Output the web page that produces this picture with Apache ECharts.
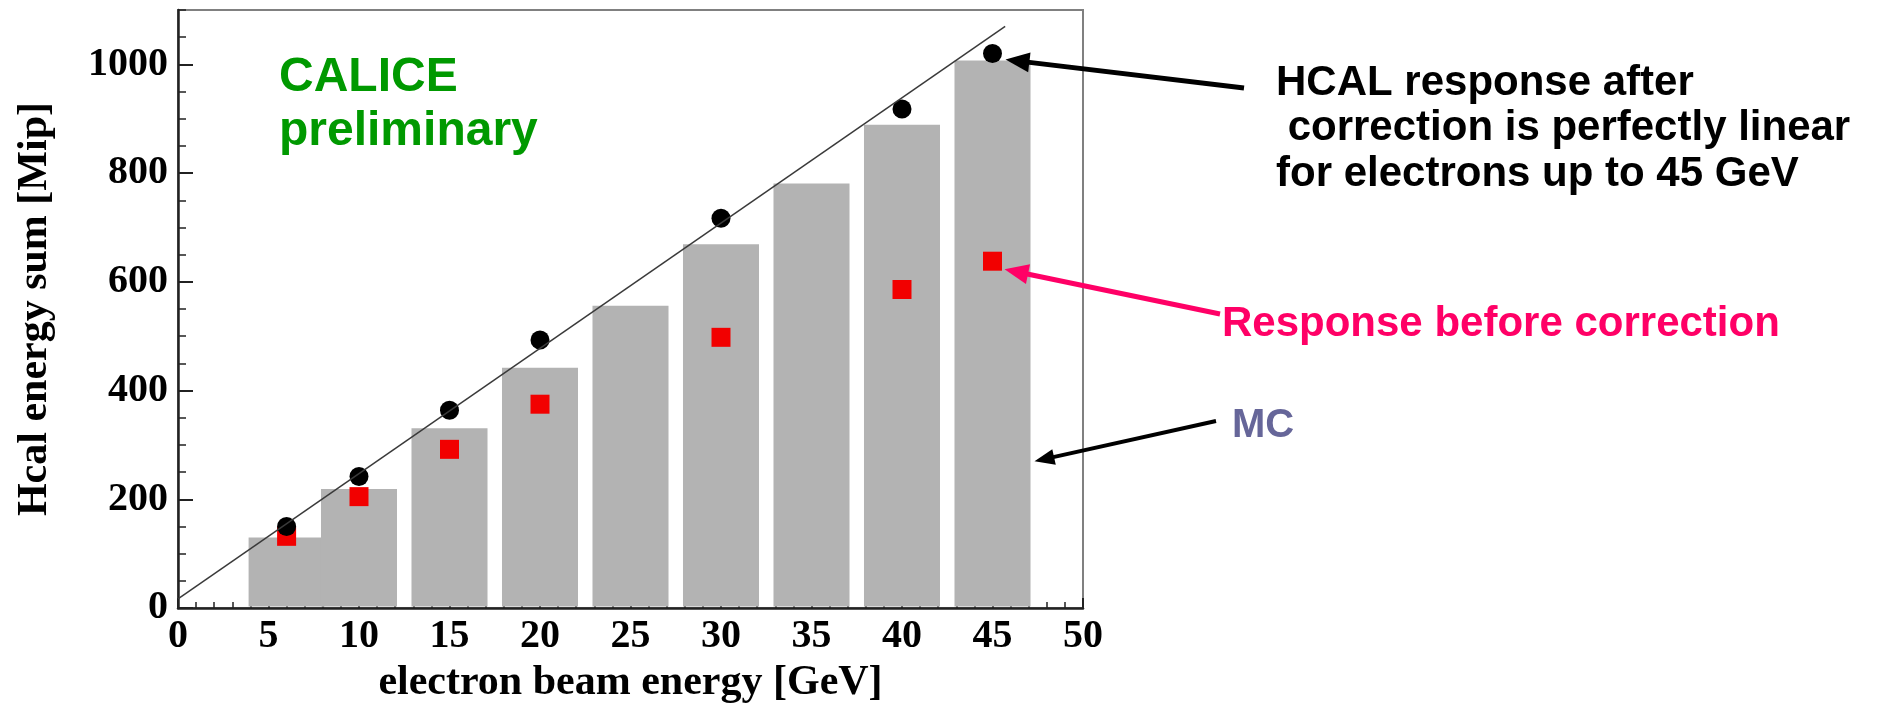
<!DOCTYPE html>
<html>
<head>
<meta charset="utf-8">
<script src="https://cdn.jsdelivr.net/npm/echarts@6/dist/echarts.min.js"></script>
<style>
  html, body { margin: 0; padding: 0; background: #ffffff; }
  #chart { width: 1881px; height: 709px; }
</style>
</head>
<body>
<div id="chart"></div>
<script>
// Beam energies of the electron runs [GeV]
const energies = [6, 10, 15, 20, 30, 40, 45];
// HCAL energy sum after correction [Mip]
const corrected = [150, 242, 364, 493, 717, 918, 1020];
// HCAL energy sum before correction [Mip]
const uncorrected = [132, 205, 292, 375, 498, 586, 638];
// Monte Carlo prediction, one bin per simulated energy
const mcEnergies = [6, 10, 15, 20, 25, 30, 35, 40, 45];
const mcResponse = [130, 219, 331, 442, 556, 669, 781, 889, 1007];
// Linear reference line (end points)
const fitEnergy = [0, 45.7];
const fitResponse = [17, 1070];

// Half width of an MC bin in GeV
const MC_HALF = 2.1;

const serif = 'Liberation Serif';
const sans = 'Liberation Sans';

const chart = echarts.init(document.getElementById('chart'), null, { renderer: 'canvas' });

const axisFont = { fontFamily: serif, fontWeight: 'bold', fontSize: 40, color: '#000' };

chart.setOption({
  animation: false,
  backgroundColor: '#ffffff',
  grid: {
    left: 178, right: 798, top: 10, bottom: 93,
    show: true, borderColor: '#808080', borderWidth: 2, backgroundColor: 'transparent'
  },
  xAxis: {
    type: 'value', min: 0, max: 50, interval: 5,
    axisLine: { lineStyle: { color: '#222', width: 2.5 } },
    axisTick: { inside: true, length: 10, lineStyle: { color: '#222', width: 2 } },
    minorTick: { show: true, splitNumber: 5, length: 6, lineStyle: { color: '#222', width: 1.5 } },
    splitLine: { show: false },
    axisLabel: Object.assign({ margin: 9 }, axisFont),
    name: 'electron beam energy [GeV]',
    nameLocation: 'middle', nameGap: 52,
    nameTextStyle: { fontFamily: serif, fontWeight: 'bold', fontSize: 42, color: '#000' }
  },
  yAxis: [
    {
      type: 'value', position: 'left', min: 0, max: 1100, interval: 200,
      axisLine: { show: true, lineStyle: { color: '#222', width: 2.5 } },
      axisTick: { inside: true, length: 15, lineStyle: { color: '#222', width: 2 } },
      splitLine: { show: false },
      axisLabel: Object.assign({ margin: 10, showMaxLabel: false, formatter: v => String(v) }, axisFont),
      name: 'Hcal energy sum [Mip]',
      nameLocation: 'middle', nameGap: 122, nameRotate: 90,
      nameTextStyle: { fontFamily: serif, fontWeight: 'bold', fontSize: 42, color: '#000' }
    },
    {
      // fine ticks every 50 Mip
      type: 'value', position: 'left', min: 0, max: 1100, interval: 50,
      axisLine: { show: false },
      axisTick: { inside: true, length: 8, lineStyle: { color: '#222', width: 1.5 } },
      splitLine: { show: false },
      axisLabel: { show: false }
    }
  ],
  series: [
    {
      name: 'MC',
      type: 'custom',
      data: mcEnergies.map((e, i) => [e, mcResponse[i]]),
      renderItem: function (params, api) {
        const x = api.value(0), v = api.value(1);
        const pTop = api.coord([x - MC_HALF, v]);
        const pBot = api.coord([x + MC_HALF, 0]);
        return {
          type: 'rect',
          shape: { x: pTop[0], y: pTop[1], width: pBot[0] - pTop[0], height: pBot[1] - pTop[1] - 1.5 },
          style: { fill: '#b3b3b3' }
        };
      }
    },
    {
      name: 'linear',
      type: 'line',
      data: fitEnergy.map((e, i) => [e, fitResponse[i]]),
      showSymbol: false,
      lineStyle: { color: '#3a3a3a', width: 1.5 }
    },
    {
      name: 'before correction',
      type: 'scatter',
      data: energies.map((e, i) => [e, uncorrected[i]]),
      symbol: 'rect', symbolSize: 19,
      itemStyle: { color: '#f20000', opacity: 1 }
    },
    {
      name: 'after correction',
      type: 'scatter',
      data: energies.map((e, i) => [e, corrected[i]]),
      symbol: 'circle', symbolSize: 19,
      itemStyle: { color: '#000000', opacity: 1 }
    }
  ]
});

// Arrow made of a thick shaft and a filled triangular head
function arrow(tail, tip, color, width, headLen, headHalf) {
  const dx = tip[0] - tail[0], dy = tip[1] - tail[1];
  const len = Math.sqrt(dx * dx + dy * dy);
  const ux = dx / len, uy = dy / len;
  const nx = -uy, ny = ux;
  const bx = tip[0] - ux * headLen, by = tip[1] - uy * headLen;
  return [
    { type: 'line', silent: true, z: 10,
      shape: { x1: tail[0], y1: tail[1], x2: bx + ux * 2, y2: by + uy * 2 },
      style: { stroke: color, lineWidth: width } },
    { type: 'polygon', silent: true, z: 10,
      shape: { points: [tip, [bx + nx * headHalf, by + ny * headHalf], [bx - nx * headHalf, by - ny * headHalf]] },
      style: { fill: color } }
  ];
}

function label(text, x, y, color, size, family) {
  return {
    type: 'text', left: x, top: y, silent: true, z: 10,
    style: {
      text: text, fill: color, font: 'bold ' + size + 'px "' + family + '"',
      verticalAlign: 'top'
    }
  };
}

const last = energies.length - 1;
const pAfter = chart.convertToPixel({ seriesIndex: 3 }, [energies[last], corrected[last]]);
const pBefore = chart.convertToPixel({ seriesIndex: 2 }, [energies[last], uncorrected[last]]);
const pMC = chart.convertToPixel({ seriesIndex: 0 }, [mcEnergies[mcEnergies.length - 1] + MC_HALF, 270]);

const graphics = [].concat(
  [
    label('CALICE', 279, 54, '#009900', 48, sans),
    label('preliminary', 279, 108, '#009900', 48, sans),
    label('HCAL response after', 1276, 62, '#000000', 42, sans),
    label(' correction is perfectly linear', 1276, 107, '#000000', 42, sans),
    label('for electrons up to 45 GeV', 1276, 153, '#000000', 42, sans),
    label('Response before correction', 1222, 303, '#ff0066', 42, sans),
    label('MC', 1232, 406, '#666699', 40, sans)
  ],
  arrow([1244, 88], [pAfter[0] + 13, pAfter[1] + 6], '#000000', 5, 24, 10),
  arrow([1220, 314], [pBefore[0] + 12, pBefore[1] + 8], '#ff0066', 5, 24, 10),
  arrow([1216, 421], [pMC[0] + 4, pMC[1]], '#000000', 4, 20, 8)
);

chart.setOption({ graphic: graphics });
</script>
</body>
</html>
